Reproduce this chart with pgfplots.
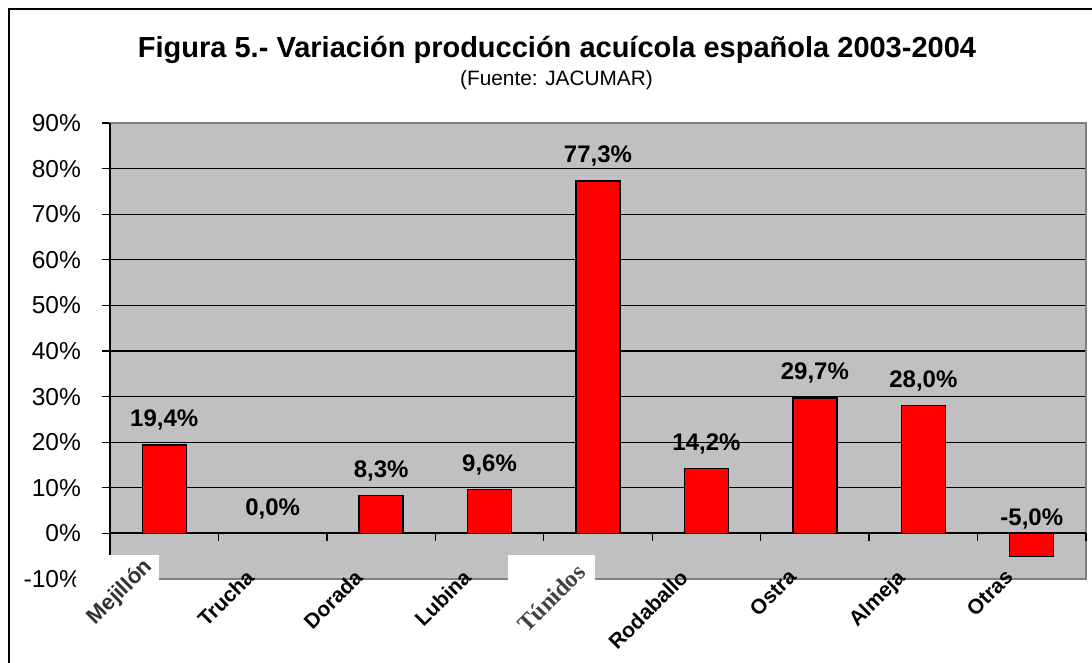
\documentclass[border=0pt]{standalone}
\usepackage{fontspec}
\setmainfont{Liberation Sans}
\newfontfamily\serifx{Liberation Serif}
\usepackage{pgfplots}
\pgfplotsset{compat=1.18}
\definecolor{plotgray}{HTML}{C0C0C0}
\definecolor{bordergray}{HTML}{808080}
\definecolor{barred}{HTML}{FF0000}
\begin{document}
\begin{tikzpicture}[x=1pt,y=1pt]
\draw[line width=2pt] (8.5,-20) rectangle (1120,654);
\node[anchor=base, inner sep=0pt, font=\fontsize{29}{34}\selectfont\bfseries] at (557,605) {Figura 5.- Variación producción acuícola española 2003-2004};
\node[anchor=base, inner sep=0pt, font=\fontsize{20.8}{25}\selectfont] at (556.5,577) {(Fuente: JACUMAR)};
\begin{axis}[
  at={(110pt,84pt)}, anchor=south west,
  scale only axis, width=976pt, height=456pt,
  xmin=-0.5, xmax=8.5, ymin=-10, ymax=90,
  axis background/.style={fill=plotgray},
  axis line style={draw=bordergray, line width=2pt},
  ytick={-10,0,...,90},
  yticklabels={-10\%,0\%,10\%,20\%,30\%,40\%,50\%,60\%,70\%,80\%,90\%},
  ymajorgrids, major grid style={black, line width=1.3pt},
  tick align=outside, major tick length=8pt,
  ytick pos=left,
  ytick style={black, line width=1.3pt},
  xtick={0,...,8},
  xtick style={draw=none},
  xticklabels={,Trucha,Dorada,Lubina,,Rodaballo,Ostra,Almeja,Otras},
  xticklabel style={font=\fontsize{21}{25}\selectfont\bfseries, inner sep=0pt, xshift=-28pt, yshift=19pt, rotate=45, anchor=north east},
  yticklabel style={font=\fontsize{24.5}{29}\selectfont, anchor=east, inner sep=0pt, xshift=-21pt},
  /pgf/number format/assume math mode=true,
  clip=false,
]
\draw[black, line width=1.8pt] (axis cs:-0.5,0) -- (axis cs:8.5,0);
\pgfplotsinvokeforeach{0.5,1.5,...,8.5}{\draw[black, line width=1.3pt] (axis cs:#1,0) -- ([yshift=-8pt]axis cs:#1,0);}
\draw[black, line width=1.5pt] (axis cs:-0.5,-10) -- (axis cs:-0.5,90);
\addplot[ybar, bar width=44pt, fill=barred, draw=black, line width=1.3pt] coordinates {
(0,19.4) (1,0.0) (2,8.3) (3,9.6) (4,77.3) (5,14.2) (6,29.7) (7,28.0) (8,-5.0)};
\addplot[draw=none, mark=none, nodes near coords={\pgfmathprintnumber[fixed,fixed zerofill,precision=1,use comma]{\pgfplotspointmeta}\%},
  point meta=\thisrow{v},
  nodes near coords style={anchor=base, yshift=18pt, inner sep=0pt, font=\fontsize{24}{28}\selectfont\bfseries, text=black}]
  table {
x ly v
0 19.4 19.4
1 0.0 0.0
2 8.3 8.3
3 9.6 9.6
4 77.3 77.3
5 14.2 14.2
6 29.7 29.7
7 28.0 28.0
};
\addplot[draw=none, mark=none, nodes near coords={\pgfmathprintnumber[fixed,fixed zerofill,precision=1,use comma]{\pgfplotspointmeta}\%},
  point meta=\thisrow{v},
  nodes near coords style={anchor=base, yshift=8pt, inner sep=0pt, font=\fontsize{24}{28}\selectfont\bfseries, text=black}]
  table {
x ly v
8 0.0 -5.0
};
\end{axis}
\fill[white] (76,23) rectangle (159,108);
\fill[white] (508,23) rectangle (595,108);
\node[rotate=45, anchor=north east, inner sep=0pt, font=\fontsize{22}{26}\selectfont\bfseries, text=black!80] at (142,107) {Mejillón};
\node[rotate=45, anchor=north east, inner sep=0pt, font=\serifx\fontsize{24}{28}\selectfont\bfseries, text=black!75] at (575,101) {Túnidos};
\pgfresetboundingbox
\useasboundingbox (0,0) rectangle (1092,663);
\end{tikzpicture}
\end{document}
